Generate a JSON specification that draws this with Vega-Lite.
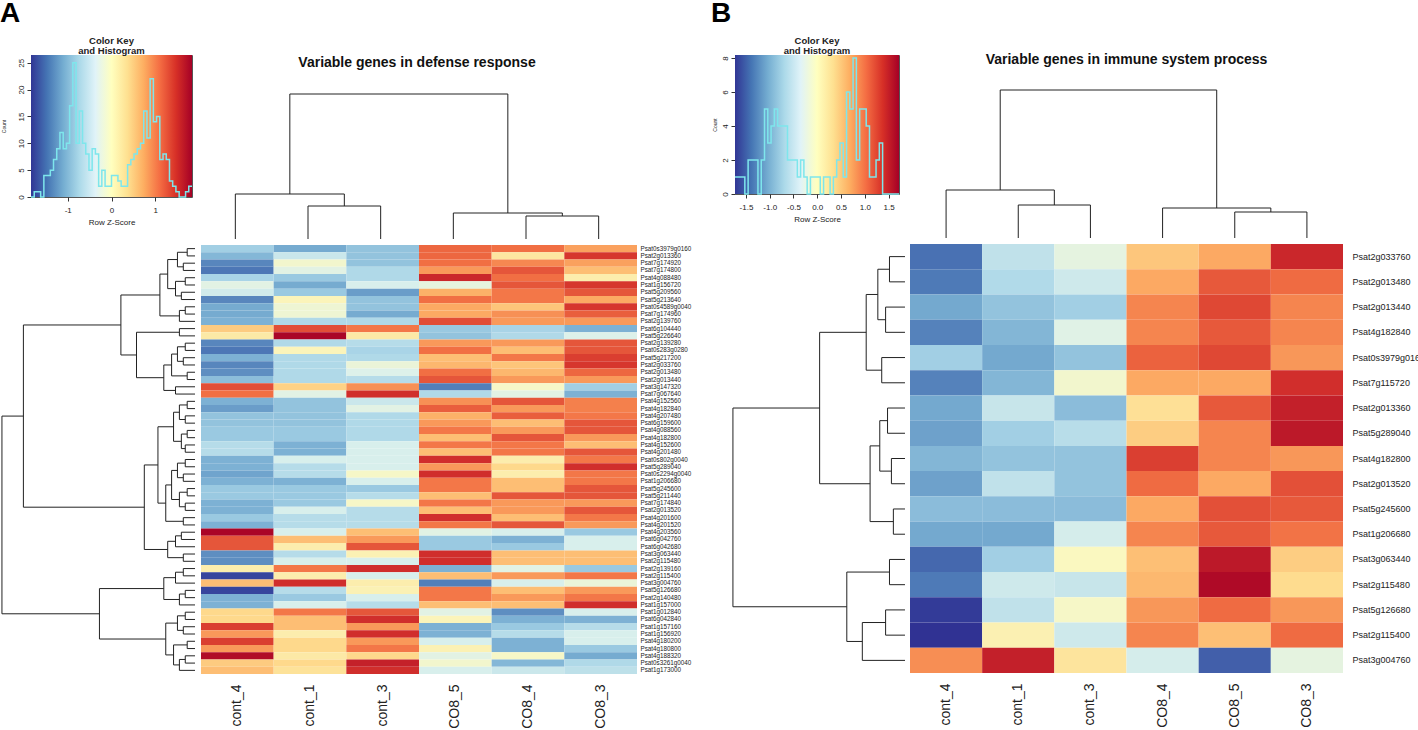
{
"$schema":"https://vega.github.io/schema/vega-lite/v6.json",
"background":"white",
"padding":0,
"config":{"view":{"stroke":null},"font":"Liberation Sans","axis":{"grid":false,"labelOverlap":false}},
"resolve":{"scale":{"color":"independent","x":"independent","y":"independent"}},
"spacing":20,
"datasets":{
"heatA":[
{"g":"Psat0s3979g0160","s":"cont_4","z":-0.8},{"g":"Psat0s3979g0160","s":"cont_1","z":-1.1},{"g":"Psat0s3979g0160","s":"cont_3","z":-0.9},{"g":"Psat0s3979g0160","s":"CO8_5","z":1.15},{"g":"Psat0s3979g0160","s":"CO8_4","z":1.1},{"g":"Psat0s3979g0160","s":"CO8_3","z":0.8},
{"g":"Psat2g013360","s":"cont_4","z":-1.0},{"g":"Psat2g013360","s":"cont_1","z":-0.5},{"g":"Psat2g013360","s":"cont_3","z":-0.9},{"g":"Psat2g013360","s":"CO8_5","z":1.15},{"g":"Psat2g013360","s":"CO8_4","z":0.25},{"g":"Psat2g013360","s":"CO8_3","z":1.45},
{"g":"Psat7g174920","s":"cont_4","z":-1.35},{"g":"Psat7g174920","s":"cont_1","z":-0.1},{"g":"Psat7g174920","s":"cont_3","z":-0.9},{"g":"Psat7g174920","s":"CO8_5","z":1.1},{"g":"Psat7g174920","s":"CO8_4","z":0.95},{"g":"Psat7g174920","s":"CO8_3","z":0.8},
{"g":"Psat7g174800","s":"cont_4","z":-1.45},{"g":"Psat7g174800","s":"cont_1","z":-0.3},{"g":"Psat7g174800","s":"cont_3","z":-0.7},{"g":"Psat7g174800","s":"CO8_5","z":0.85},{"g":"Psat7g174800","s":"CO8_4","z":1.25},{"g":"Psat7g174800","s":"CO8_3","z":0.6},
{"g":"Psat4g088480","s":"cont_4","z":-0.75},{"g":"Psat4g088480","s":"cont_1","z":-0.85},{"g":"Psat4g088480","s":"cont_3","z":-0.7},{"g":"Psat4g088480","s":"CO8_5","z":1.55},{"g":"Psat4g088480","s":"CO8_4","z":1.1},{"g":"Psat4g088480","s":"CO8_3","z":0.15},
{"g":"Psat1g156720","s":"cont_4","z":-0.3},{"g":"Psat1g156720","s":"cont_1","z":-1.1},{"g":"Psat1g156720","s":"cont_3","z":-0.4},{"g":"Psat1g156720","s":"CO8_5","z":-0.25},{"g":"Psat1g156720","s":"CO8_4","z":1.25},{"g":"Psat1g156720","s":"CO8_3","z":1.45},
{"g":"Psat5g209560","s":"cont_4","z":-0.45},{"g":"Psat5g209560","s":"cont_1","z":-0.85},{"g":"Psat5g209560","s":"cont_3","z":-1.2},{"g":"Psat5g209560","s":"CO8_5","z":0.7},{"g":"Psat5g209560","s":"CO8_4","z":1.05},{"g":"Psat5g209560","s":"CO8_3","z":1.25},
{"g":"Psat5g213640","s":"cont_4","z":-1.35},{"g":"Psat5g213640","s":"cont_1","z":0.05},{"g":"Psat5g213640","s":"cont_3","z":-0.9},{"g":"Psat5g213640","s":"CO8_5","z":1.1},{"g":"Psat5g213640","s":"CO8_4","z":1.05},{"g":"Psat5g213640","s":"CO8_3","z":0.75},
{"g":"Psat0s4589g0040","s":"cont_4","z":-1.1},{"g":"Psat0s4589g0040","s":"cont_1","z":-0.15},{"g":"Psat0s4589g0040","s":"cont_3","z":-0.9},{"g":"Psat0s4589g0040","s":"CO8_5","z":0.75},{"g":"Psat0s4589g0040","s":"CO8_4","z":0.55},{"g":"Psat0s4589g0040","s":"CO8_3","z":1.45},
{"g":"Psat7g174960","s":"cont_4","z":-1.1},{"g":"Psat7g174960","s":"cont_1","z":-0.15},{"g":"Psat7g174960","s":"cont_3","z":-1.1},{"g":"Psat7g174960","s":"CO8_5","z":0.75},{"g":"Psat7g174960","s":"CO8_4","z":0.9},{"g":"Psat7g174960","s":"CO8_3","z":1.2},
{"g":"Psat2g139760","s":"cont_4","z":-1.05},{"g":"Psat2g139760","s":"cont_1","z":-0.7},{"g":"Psat2g139760","s":"cont_3","z":-0.7},{"g":"Psat2g139760","s":"CO8_5","z":1.3},{"g":"Psat2g139760","s":"CO8_4","z":0.85},{"g":"Psat2g139760","s":"CO8_3","z":0.85},
{"g":"Psat6g104440","s":"cont_4","z":0.5},{"g":"Psat6g104440","s":"cont_1","z":1.3},{"g":"Psat6g104440","s":"cont_3","z":1.05},{"g":"Psat6g104440","s":"CO8_5","z":-0.85},{"g":"Psat6g104440","s":"CO8_4","z":-0.75},{"g":"Psat6g104440","s":"CO8_3","z":-1.05},
{"g":"Psat5g226640","s":"cont_4","z":0.2},{"g":"Psat5g226640","s":"cont_1","z":1.8},{"g":"Psat5g226640","s":"cont_3","z":0.2},{"g":"Psat5g226640","s":"CO8_5","z":-0.9},{"g":"Psat5g226640","s":"CO8_4","z":-0.7},{"g":"Psat5g226640","s":"CO8_3","z":-0.35},
{"g":"Psat2g139280","s":"cont_4","z":-1.35},{"g":"Psat2g139280","s":"cont_1","z":-0.7},{"g":"Psat2g139280","s":"cont_3","z":-0.65},{"g":"Psat2g139280","s":"CO8_5","z":0.85},{"g":"Psat2g139280","s":"CO8_4","z":0.85},{"g":"Psat2g139280","s":"CO8_3","z":1.25},
{"g":"Psat0s283g0280","s":"cont_4","z":-1.45},{"g":"Psat0s283g0280","s":"cont_1","z":0.05},{"g":"Psat0s283g0280","s":"cont_3","z":-0.75},{"g":"Psat0s283g0280","s":"CO8_5","z":1.1},{"g":"Psat0s283g0280","s":"CO8_4","z":0.6},{"g":"Psat0s283g0280","s":"CO8_3","z":1.25},
{"g":"Psat5g217200","s":"cont_4","z":-1.05},{"g":"Psat5g217200","s":"cont_1","z":-0.7},{"g":"Psat5g217200","s":"cont_3","z":-0.7},{"g":"Psat5g217200","s":"CO8_5","z":0.6},{"g":"Psat5g217200","s":"CO8_4","z":1.05},{"g":"Psat5g217200","s":"CO8_3","z":1.4},
{"g":"Psat2g033760","s":"cont_4","z":-1.35},{"g":"Psat2g033760","s":"cont_1","z":-0.7},{"g":"Psat2g033760","s":"cont_3","z":-0.2},{"g":"Psat2g033760","s":"CO8_5","z":0.65},{"g":"Psat2g033760","s":"CO8_4","z":0.55},{"g":"Psat2g033760","s":"CO8_3","z":1.45},
{"g":"Psat2g013480","s":"cont_4","z":-1.3},{"g":"Psat2g013480","s":"cont_1","z":-0.7},{"g":"Psat2g013480","s":"cont_3","z":-0.35},{"g":"Psat2g013480","s":"CO8_5","z":1.1},{"g":"Psat2g013480","s":"CO8_4","z":0.65},{"g":"Psat2g013480","s":"CO8_3","z":1.15},
{"g":"Psat2g013440","s":"cont_4","z":-0.95},{"g":"Psat2g013440","s":"cont_1","z":-0.7},{"g":"Psat2g013440","s":"cont_3","z":-0.65},{"g":"Psat2g013440","s":"CO8_5","z":1.25},{"g":"Psat2g013440","s":"CO8_4","z":0.85},{"g":"Psat2g013440","s":"CO8_3","z":0.85},
{"g":"Psat3g147320","s":"cont_4","z":1.3},{"g":"Psat3g147320","s":"cont_1","z":0.45},{"g":"Psat3g147320","s":"cont_3","z":0.9},{"g":"Psat3g147320","s":"CO8_5","z":-1.4},{"g":"Psat3g147320","s":"CO8_4","z":-0.05},{"g":"Psat3g147320","s":"CO8_3","z":-0.8},
{"g":"Psat7g067640","s":"cont_4","z":1.1},{"g":"Psat7g067640","s":"cont_1","z":-0.3},{"g":"Psat7g067640","s":"cont_3","z":1.5},{"g":"Psat7g067640","s":"CO8_5","z":-0.7},{"g":"Psat7g067640","s":"CO8_4","z":-0.3},{"g":"Psat7g067640","s":"CO8_3","z":-1.05},
{"g":"Psat4g152560","s":"cont_4","z":-1.05},{"g":"Psat4g152560","s":"cont_1","z":-0.9},{"g":"Psat4g152560","s":"cont_3","z":-0.5},{"g":"Psat4g152560","s":"CO8_5","z":0.9},{"g":"Psat4g152560","s":"CO8_4","z":1.25},{"g":"Psat4g152560","s":"CO8_3","z":1.0},
{"g":"Psat4g182840","s":"cont_4","z":-1.2},{"g":"Psat4g182840","s":"cont_1","z":-0.9},{"g":"Psat4g182840","s":"cont_3","z":-0.3},{"g":"Psat4g182840","s":"CO8_5","z":1.2},{"g":"Psat4g182840","s":"CO8_4","z":0.85},{"g":"Psat4g182840","s":"CO8_3","z":1.0},
{"g":"Psat4g207480","s":"cont_4","z":-0.9},{"g":"Psat4g207480","s":"cont_1","z":-0.9},{"g":"Psat4g207480","s":"cont_3","z":-0.7},{"g":"Psat4g207480","s":"CO8_5","z":0.7},{"g":"Psat4g207480","s":"CO8_4","z":1.2},{"g":"Psat4g207480","s":"CO8_3","z":1.05},
{"g":"Psat6g159600","s":"cont_4","z":-0.9},{"g":"Psat6g159600","s":"cont_1","z":-0.9},{"g":"Psat6g159600","s":"cont_3","z":-0.7},{"g":"Psat6g159600","s":"CO8_5","z":0.85},{"g":"Psat6g159600","s":"CO8_4","z":0.6},{"g":"Psat6g159600","s":"CO8_3","z":1.25},
{"g":"Psat4g088560","s":"cont_4","z":-0.85},{"g":"Psat4g088560","s":"cont_1","z":-0.85},{"g":"Psat4g088560","s":"cont_3","z":-0.7},{"g":"Psat4g088560","s":"CO8_5","z":1.05},{"g":"Psat4g088560","s":"CO8_4","z":0.85},{"g":"Psat4g088560","s":"CO8_3","z":1.25},
{"g":"Psat4g182800","s":"cont_4","z":-0.85},{"g":"Psat4g182800","s":"cont_1","z":-0.85},{"g":"Psat4g182800","s":"cont_3","z":-0.7},{"g":"Psat4g182800","s":"CO8_5","z":0.6},{"g":"Psat4g182800","s":"CO8_4","z":1.25},{"g":"Psat4g182800","s":"CO8_3","z":0.85},
{"g":"Psat4g152600","s":"cont_4","z":-0.65},{"g":"Psat4g152600","s":"cont_1","z":-1.05},{"g":"Psat4g152600","s":"cont_3","z":-0.4},{"g":"Psat4g152600","s":"CO8_5","z":1.05},{"g":"Psat4g152600","s":"CO8_4","z":1.05},{"g":"Psat4g152600","s":"CO8_3","z":0.6},
{"g":"Psat4g201480","s":"cont_4","z":-0.65},{"g":"Psat4g201480","s":"cont_1","z":-1.05},{"g":"Psat4g201480","s":"cont_3","z":-0.4},{"g":"Psat4g201480","s":"CO8_5","z":0.6},{"g":"Psat4g201480","s":"CO8_4","z":1.05},{"g":"Psat4g201480","s":"CO8_3","z":1.25},
{"g":"Psat0s802g0040","s":"cont_4","z":-1.05},{"g":"Psat0s802g0040","s":"cont_1","z":-0.4},{"g":"Psat0s802g0040","s":"cont_3","z":-0.4},{"g":"Psat0s802g0040","s":"CO8_5","z":1.5},{"g":"Psat0s802g0040","s":"CO8_4","z":0.15},{"g":"Psat0s802g0040","s":"CO8_3","z":1.05},
{"g":"Psat5g289040","s":"cont_4","z":-1.05},{"g":"Psat5g289040","s":"cont_1","z":-0.65},{"g":"Psat5g289040","s":"cont_3","z":-0.4},{"g":"Psat5g289040","s":"CO8_5","z":0.85},{"g":"Psat5g289040","s":"CO8_4","z":0.4},{"g":"Psat5g289040","s":"CO8_3","z":1.5},
{"g":"Psat0s2294g0040","s":"cont_4","z":-1.15},{"g":"Psat0s2294g0040","s":"cont_1","z":-0.65},{"g":"Psat0s2294g0040","s":"cont_3","z":-0.05},{"g":"Psat0s2294g0040","s":"CO8_5","z":1.5},{"g":"Psat0s2294g0040","s":"CO8_4","z":0.15},{"g":"Psat0s2294g0040","s":"CO8_3","z":1.05},
{"g":"Psat1g206680","s":"cont_4","z":-1.05},{"g":"Psat1g206680","s":"cont_1","z":-1.05},{"g":"Psat1g206680","s":"cont_3","z":-0.4},{"g":"Psat1g206680","s":"CO8_5","z":1.05},{"g":"Psat1g206680","s":"CO8_4","z":0.6},{"g":"Psat1g206680","s":"CO8_3","z":1.05},
{"g":"Psat5g245600","s":"cont_4","z":-0.85},{"g":"Psat5g245600","s":"cont_1","z":-0.85},{"g":"Psat5g245600","s":"cont_3","z":-0.85},{"g":"Psat5g245600","s":"CO8_5","z":1.05},{"g":"Psat5g245600","s":"CO8_4","z":0.6},{"g":"Psat5g245600","s":"CO8_3","z":1.25},
{"g":"Psat5g211440","s":"cont_4","z":-0.85},{"g":"Psat5g211440","s":"cont_1","z":-0.85},{"g":"Psat5g211440","s":"cont_3","z":-0.65},{"g":"Psat5g211440","s":"CO8_5","z":0.6},{"g":"Psat5g211440","s":"CO8_4","z":1.25},{"g":"Psat5g211440","s":"CO8_3","z":1.25},
{"g":"Psat7g174840","s":"cont_4","z":-1.05},{"g":"Psat7g174840","s":"cont_1","z":-0.85},{"g":"Psat7g174840","s":"cont_3","z":-0.05},{"g":"Psat7g174840","s":"CO8_5","z":1.05},{"g":"Psat7g174840","s":"CO8_4","z":0.85},{"g":"Psat7g174840","s":"CO8_3","z":0.85},
{"g":"Psat2g013520","s":"cont_4","z":-1.05},{"g":"Psat2g013520","s":"cont_1","z":-0.4},{"g":"Psat2g013520","s":"cont_3","z":-0.65},{"g":"Psat2g013520","s":"CO8_5","z":0.6},{"g":"Psat2g013520","s":"CO8_4","z":0.85},{"g":"Psat2g013520","s":"CO8_3","z":1.25},
{"g":"Psat4g201600","s":"cont_4","z":-0.85},{"g":"Psat4g201600","s":"cont_1","z":-0.65},{"g":"Psat4g201600","s":"cont_3","z":-0.65},{"g":"Psat4g201600","s":"CO8_5","z":1.5},{"g":"Psat4g201600","s":"CO8_4","z":0.6},{"g":"Psat4g201600","s":"CO8_3","z":1.05},
{"g":"Psat4g201520","s":"cont_4","z":-1.05},{"g":"Psat4g201520","s":"cont_1","z":-0.65},{"g":"Psat4g201520","s":"cont_3","z":-0.65},{"g":"Psat4g201520","s":"CO8_5","z":1.05},{"g":"Psat4g201520","s":"CO8_4","z":1.25},{"g":"Psat4g201520","s":"CO8_3","z":0.85},
{"g":"Psat4g203560","s":"cont_4","z":1.8},{"g":"Psat4g203560","s":"cont_1","z":-0.4},{"g":"Psat4g203560","s":"cont_3","z":0.6},{"g":"Psat4g203560","s":"CO8_5","z":-0.3},{"g":"Psat4g203560","s":"CO8_4","z":-0.4},{"g":"Psat4g203560","s":"CO8_3","z":-0.85},
{"g":"Psat6g042760","s":"cont_4","z":1.25},{"g":"Psat6g042760","s":"cont_1","z":0.6},{"g":"Psat6g042760","s":"cont_3","z":0.85},{"g":"Psat6g042760","s":"CO8_5","z":-0.85},{"g":"Psat6g042760","s":"CO8_4","z":-1.05},{"g":"Psat6g042760","s":"CO8_3","z":-0.4},
{"g":"Psat6g042680","s":"cont_4","z":1.25},{"g":"Psat6g042680","s":"cont_1","z":0.15},{"g":"Psat6g042680","s":"cont_3","z":1.25},{"g":"Psat6g042680","s":"CO8_5","z":-0.85},{"g":"Psat6g042680","s":"CO8_4","z":-0.85},{"g":"Psat6g042680","s":"CO8_3","z":-0.4},
{"g":"Psat3g063440","s":"cont_4","z":-1.3},{"g":"Psat3g063440","s":"cont_1","z":-0.65},{"g":"Psat3g063440","s":"cont_3","z":0.1},{"g":"Psat3g063440","s":"CO8_5","z":1.5},{"g":"Psat3g063440","s":"CO8_4","z":0.6},{"g":"Psat3g063440","s":"CO8_3","z":0.6},
{"g":"Psat2g115480","s":"cont_4","z":-1.3},{"g":"Psat2g115480","s":"cont_1","z":-0.4},{"g":"Psat2g115480","s":"cont_3","z":-0.4},{"g":"Psat2g115480","s":"CO8_5","z":1.5},{"g":"Psat2g115480","s":"CO8_4","z":0.6},{"g":"Psat2g115480","s":"CO8_3","z":0.6},
{"g":"Psat2g139160","s":"cont_4","z":0.15},{"g":"Psat2g139160","s":"cont_1","z":1.05},{"g":"Psat2g139160","s":"cont_3","z":1.5},{"g":"Psat2g139160","s":"CO8_5","z":-1.05},{"g":"Psat2g139160","s":"CO8_4","z":-0.3},{"g":"Psat2g139160","s":"CO8_3","z":-0.85},
{"g":"Psat2g115400","s":"cont_4","z":-1.75},{"g":"Psat2g115400","s":"cont_1","z":0.15},{"g":"Psat2g115400","s":"cont_3","z":-0.4},{"g":"Psat2g115400","s":"CO8_5","z":0.6},{"g":"Psat2g115400","s":"CO8_4","z":0.85},{"g":"Psat2g115400","s":"CO8_3","z":1.05},
{"g":"Psat3g004760","s":"cont_4","z":0.6},{"g":"Psat3g004760","s":"cont_1","z":1.5},{"g":"Psat3g004760","s":"cont_3","z":0.15},{"g":"Psat3g004760","s":"CO8_5","z":-1.4},{"g":"Psat3g004760","s":"CO8_4","z":-0.4},{"g":"Psat3g004760","s":"CO8_3","z":-0.2},
{"g":"Psat5g126680","s":"cont_4","z":-1.75},{"g":"Psat5g126680","s":"cont_1","z":-0.65},{"g":"Psat5g126680","s":"cont_3","z":0.1},{"g":"Psat5g126680","s":"CO8_5","z":1.05},{"g":"Psat5g126680","s":"CO8_4","z":0.6},{"g":"Psat5g126680","s":"CO8_3","z":0.85},
{"g":"Psat2g140480","s":"cont_4","z":-1.05},{"g":"Psat2g140480","s":"cont_1","z":-0.85},{"g":"Psat2g140480","s":"cont_3","z":-0.4},{"g":"Psat2g140480","s":"CO8_5","z":1.05},{"g":"Psat2g140480","s":"CO8_4","z":0.85},{"g":"Psat2g140480","s":"CO8_3","z":1.05},
{"g":"Psat1g157000","s":"cont_4","z":-1.05},{"g":"Psat1g157000","s":"cont_1","z":-0.4},{"g":"Psat1g157000","s":"cont_3","z":-0.65},{"g":"Psat1g157000","s":"CO8_5","z":0.6},{"g":"Psat1g157000","s":"CO8_4","z":0.6},{"g":"Psat1g157000","s":"CO8_3","z":1.5},
{"g":"Psat1g012840","s":"cont_4","z":0.4},{"g":"Psat1g012840","s":"cont_1","z":1.05},{"g":"Psat1g012840","s":"cont_3","z":1.25},{"g":"Psat1g012840","s":"CO8_5","z":-0.3},{"g":"Psat1g012840","s":"CO8_4","z":-1.3},{"g":"Psat1g012840","s":"CO8_3","z":-0.4},
{"g":"Psat6g042840","s":"cont_4","z":0.4},{"g":"Psat6g042840","s":"cont_1","z":0.6},{"g":"Psat6g042840","s":"cont_3","z":1.5},{"g":"Psat6g042840","s":"CO8_5","z":0.05},{"g":"Psat6g042840","s":"CO8_4","z":-1.05},{"g":"Psat6g042840","s":"CO8_3","z":-1.05},
{"g":"Psat1g157160","s":"cont_4","z":1.4},{"g":"Psat1g157160","s":"cont_1","z":0.6},{"g":"Psat1g157160","s":"cont_3","z":0.85},{"g":"Psat1g157160","s":"CO8_5","z":-1.05},{"g":"Psat1g157160","s":"CO8_4","z":-0.85},{"g":"Psat1g157160","s":"CO8_3","z":-0.65},
{"g":"Psat1g156920","s":"cont_4","z":0.85},{"g":"Psat1g156920","s":"cont_1","z":0.15},{"g":"Psat1g156920","s":"cont_3","z":1.5},{"g":"Psat1g156920","s":"CO8_5","z":-1.05},{"g":"Psat1g156920","s":"CO8_4","z":-0.65},{"g":"Psat1g156920","s":"CO8_3","z":-0.4},
{"g":"Psat4g180200","s":"cont_4","z":1.4},{"g":"Psat4g180200","s":"cont_1","z":0.4},{"g":"Psat4g180200","s":"cont_3","z":0.85},{"g":"Psat4g180200","s":"CO8_5","z":-0.4},{"g":"Psat4g180200","s":"CO8_4","z":-1.05},{"g":"Psat4g180200","s":"CO8_3","z":-0.4},
{"g":"Psat4g180800","s":"cont_4","z":0.85},{"g":"Psat4g180800","s":"cont_1","z":0.4},{"g":"Psat4g180800","s":"cont_3","z":1.05},{"g":"Psat4g180800","s":"CO8_5","z":0.1},{"g":"Psat4g180800","s":"CO8_4","z":-1.05},{"g":"Psat4g180800","s":"CO8_3","z":-0.85},
{"g":"Psat4g188320","s":"cont_4","z":1.75},{"g":"Psat4g188320","s":"cont_1","z":0.2},{"g":"Psat4g188320","s":"cont_3","z":0.4},{"g":"Psat4g188320","s":"CO8_5","z":-0.3},{"g":"Psat4g188320","s":"CO8_4","z":-0.05},{"g":"Psat4g188320","s":"CO8_3","z":-1.1},
{"g":"Psat0s3261g0040","s":"cont_4","z":0.5},{"g":"Psat0s3261g0040","s":"cont_1","z":0.4},{"g":"Psat0s3261g0040","s":"cont_3","z":1.6},{"g":"Psat0s3261g0040","s":"CO8_5","z":-0.1},{"g":"Psat0s3261g0040","s":"CO8_4","z":-1.0},{"g":"Psat0s3261g0040","s":"CO8_3","z":-0.7},
{"g":"Psat1g173000","s":"cont_4","z":0.6},{"g":"Psat1g173000","s":"cont_1","z":0.3},{"g":"Psat1g173000","s":"cont_3","z":1.5},{"g":"Psat1g173000","s":"CO8_5","z":-0.4},{"g":"Psat1g173000","s":"CO8_4","z":-0.5},{"g":"Psat1g173000","s":"CO8_3","z":-0.6}
],
"heatB":[
{"g":"Psat2g033760","s":"cont_4","z":-1.4},{"g":"Psat2g033760","s":"cont_1","z":-0.55},{"g":"Psat2g033760","s":"cont_3","z":-0.25},{"g":"Psat2g033760","s":"CO8_4","z":0.5},{"g":"Psat2g033760","s":"CO8_5","z":0.7},{"g":"Psat2g033760","s":"CO8_3","z":1.45},
{"g":"Psat2g013480","s":"cont_4","z":-1.35},{"g":"Psat2g013480","s":"cont_1","z":-0.65},{"g":"Psat2g013480","s":"cont_3","z":-0.45},{"g":"Psat2g013480","s":"CO8_4","z":0.7},{"g":"Psat2g013480","s":"CO8_5","z":1.15},{"g":"Psat2g013480","s":"CO8_3","z":1.05},
{"g":"Psat2g013440","s":"cont_4","z":-1.05},{"g":"Psat2g013440","s":"cont_1","z":-0.85},{"g":"Psat2g013440","s":"cont_3","z":-0.75},{"g":"Psat2g013440","s":"CO8_4","z":0.9},{"g":"Psat2g013440","s":"CO8_5","z":1.25},{"g":"Psat2g013440","s":"CO8_3","z":0.9},
{"g":"Psat4g182840","s":"cont_4","z":-1.3},{"g":"Psat4g182840","s":"cont_1","z":-0.95},{"g":"Psat4g182840","s":"cont_3","z":-0.3},{"g":"Psat4g182840","s":"CO8_4","z":0.9},{"g":"Psat4g182840","s":"CO8_5","z":1.15},{"g":"Psat4g182840","s":"CO8_3","z":0.9},
{"g":"Psat0s3979g0160","s":"cont_4","z":-0.75},{"g":"Psat0s3979g0160","s":"cont_1","z":-1.05},{"g":"Psat0s3979g0160","s":"cont_3","z":-0.85},{"g":"Psat0s3979g0160","s":"CO8_4","z":1.1},{"g":"Psat0s3979g0160","s":"CO8_5","z":1.25},{"g":"Psat0s3979g0160","s":"CO8_3","z":0.8},
{"g":"Psat7g115720","s":"cont_4","z":-1.3},{"g":"Psat7g115720","s":"cont_1","z":-0.95},{"g":"Psat7g115720","s":"cont_3","z":-0.1},{"g":"Psat7g115720","s":"CO8_4","z":0.7},{"g":"Psat7g115720","s":"CO8_5","z":0.7},{"g":"Psat7g115720","s":"CO8_3","z":1.4},
{"g":"Psat2g013360","s":"cont_4","z":-1.05},{"g":"Psat2g013360","s":"cont_1","z":-0.5},{"g":"Psat2g013360","s":"cont_3","z":-0.9},{"g":"Psat2g013360","s":"CO8_4","z":0.3},{"g":"Psat2g013360","s":"CO8_5","z":1.15},{"g":"Psat2g013360","s":"CO8_3","z":1.5},
{"g":"Psat5g289040","s":"cont_4","z":-1.1},{"g":"Psat5g289040","s":"cont_1","z":-0.75},{"g":"Psat5g289040","s":"cont_3","z":-0.6},{"g":"Psat5g289040","s":"CO8_4","z":0.45},{"g":"Psat5g289040","s":"CO8_5","z":0.9},{"g":"Psat5g289040","s":"CO8_3","z":1.55},
{"g":"Psat4g182800","s":"cont_4","z":-0.95},{"g":"Psat4g182800","s":"cont_1","z":-0.85},{"g":"Psat4g182800","s":"cont_3","z":-0.85},{"g":"Psat4g182800","s":"CO8_4","z":1.3},{"g":"Psat4g182800","s":"CO8_5","z":0.9},{"g":"Psat4g182800","s":"CO8_3","z":0.8},
{"g":"Psat2g013520","s":"cont_4","z":-1.1},{"g":"Psat2g013520","s":"cont_1","z":-0.55},{"g":"Psat2g013520","s":"cont_3","z":-0.85},{"g":"Psat2g013520","s":"CO8_4","z":1.05},{"g":"Psat2g013520","s":"CO8_5","z":0.7},{"g":"Psat2g013520","s":"CO8_3","z":1.2},
{"g":"Psat5g245600","s":"cont_4","z":-0.9},{"g":"Psat5g245600","s":"cont_1","z":-0.9},{"g":"Psat5g245600","s":"cont_3","z":-0.9},{"g":"Psat5g245600","s":"CO8_4","z":0.7},{"g":"Psat5g245600","s":"CO8_5","z":1.2},{"g":"Psat5g245600","s":"CO8_3","z":1.15},
{"g":"Psat1g206680","s":"cont_4","z":-1.05},{"g":"Psat1g206680","s":"cont_1","z":-1.05},{"g":"Psat1g206680","s":"cont_3","z":-0.4},{"g":"Psat1g206680","s":"CO8_4","z":0.9},{"g":"Psat1g206680","s":"CO8_5","z":1.15},{"g":"Psat1g206680","s":"CO8_3","z":1.0},
{"g":"Psat3g063440","s":"cont_4","z":-1.45},{"g":"Psat3g063440","s":"cont_1","z":-0.75},{"g":"Psat3g063440","s":"cont_3","z":0.0},{"g":"Psat3g063440","s":"CO8_4","z":0.55},{"g":"Psat3g063440","s":"CO8_5","z":1.55},{"g":"Psat3g063440","s":"CO8_3","z":0.45},
{"g":"Psat2g115480","s":"cont_4","z":-1.35},{"g":"Psat2g115480","s":"cont_1","z":-0.45},{"g":"Psat2g115480","s":"cont_3","z":-0.5},{"g":"Psat2g115480","s":"CO8_4","z":0.6},{"g":"Psat2g115480","s":"CO8_5","z":1.65},{"g":"Psat2g115480","s":"CO8_3","z":0.35},
{"g":"Psat5g126680","s":"cont_4","z":-1.7},{"g":"Psat5g126680","s":"cont_1","z":-0.55},{"g":"Psat5g126680","s":"cont_3","z":-0.05},{"g":"Psat5g126680","s":"CO8_4","z":0.8},{"g":"Psat5g126680","s":"CO8_5","z":1.05},{"g":"Psat5g126680","s":"CO8_3","z":0.8},
{"g":"Psat2g115400","s":"cont_4","z":-1.75},{"g":"Psat2g115400","s":"cont_1","z":0.1},{"g":"Psat2g115400","s":"cont_3","z":-0.45},{"g":"Psat2g115400","s":"CO8_4","z":0.9},{"g":"Psat2g115400","s":"CO8_5","z":0.55},{"g":"Psat2g115400","s":"CO8_3","z":1.05},
{"g":"Psat3g004760","s":"cont_4","z":0.85},{"g":"Psat3g004760","s":"cont_1","z":1.5},{"g":"Psat3g004760","s":"cont_3","z":0.25},{"g":"Psat3g004760","s":"CO8_4","z":-0.4},{"g":"Psat3g004760","s":"CO8_5","z":-1.5},{"g":"Psat3g004760","s":"CO8_3","z":-0.25}
],
"histA":[
{"x":-1.84,"n":0},{"x":-1.766,"n":1},{"x":-1.693,"n":1},{"x":-1.619,"n":0},{"x":-1.546,"n":4},{"x":-1.472,"n":4},{"x":-1.398,"n":5},{"x":-1.325,"n":7},{"x":-1.251,"n":9},{"x":-1.178,"n":12},{"x":-1.104,"n":9},{"x":-1.03,"n":10},{"x":-0.957,"n":17},{"x":-0.883,"n":25},{"x":-0.81,"n":10},{"x":-0.736,"n":16},{"x":-0.662,"n":10},{"x":-0.589,"n":8},{"x":-0.515,"n":5},{"x":-0.442,"n":9},{"x":-0.368,"n":8},{"x":-0.294,"n":2},{"x":-0.221,"n":5},{"x":-0.147,"n":2},{"x":-0.074,"n":2},{"x":0,"n":4},{"x":0.074,"n":4},{"x":0.147,"n":3},{"x":0.221,"n":2},{"x":0.294,"n":2},{"x":0.368,"n":6},{"x":0.442,"n":7},{"x":0.515,"n":8},{"x":0.589,"n":9},{"x":0.662,"n":10},{"x":0.736,"n":16},{"x":0.81,"n":11},{"x":0.883,"n":22},{"x":0.957,"n":14},{"x":1.03,"n":15},{"x":1.104,"n":7},{"x":1.178,"n":8},{"x":1.251,"n":7},{"x":1.325,"n":3},{"x":1.398,"n":2},{"x":1.472,"n":1},{"x":1.546,"n":0},{"x":1.619,"n":0},{"x":1.693,"n":1},{"x":1.766,"n":2},{"x":1.84,"n":2}
],
"histB":[
{"x":-1.73,"n":1},{"x":-1.661,"n":1},{"x":-1.592,"n":1},{"x":-1.523,"n":0},{"x":-1.454,"n":2},{"x":-1.385,"n":2},{"x":-1.316,"n":2},{"x":-1.247,"n":0},{"x":-1.178,"n":2},{"x":-1.109,"n":5},{"x":-1.04,"n":3},{"x":-0.971,"n":4},{"x":-0.902,"n":5},{"x":-0.833,"n":4},{"x":-0.764,"n":4},{"x":-0.695,"n":4},{"x":-0.626,"n":2},{"x":-0.557,"n":2},{"x":-0.488,"n":2},{"x":-0.419,"n":1},{"x":-0.35,"n":2},{"x":-0.281,"n":1},{"x":-0.212,"n":0},{"x":-0.143,"n":1},{"x":-0.074,"n":1},{"x":-0.005,"n":1},{"x":0.064,"n":0},{"x":0.133,"n":1},{"x":0.202,"n":1},{"x":0.271,"n":0},{"x":0.34,"n":1},{"x":0.409,"n":2},{"x":0.478,"n":3},{"x":0.547,"n":1},{"x":0.616,"n":6},{"x":0.685,"n":5},{"x":0.754,"n":8},{"x":0.823,"n":2},{"x":0.892,"n":5},{"x":0.961,"n":5},{"x":1.03,"n":4},{"x":1.099,"n":1},{"x":1.168,"n":1},{"x":1.237,"n":2},{"x":1.306,"n":3},{"x":1.375,"n":0},{"x":1.444,"n":0},{"x":1.513,"n":0},{"x":1.582,"n":0},{"x":1.651,"n":0},{"x":1.72,"n":0}
],
"colA":[
{"x":1.5,"x2":1.5,"y":0,"y2":33},{"x":2.5,"x2":2.5,"y":0,"y2":33},{"x":1.5,"x2":2.5,"y":33,"y2":33},
{"x":0.5,"x2":0.5,"y":0,"y2":45},{"x":2,"x2":2,"y":33,"y2":45},{"x":0.5,"x2":2,"y":45,"y2":45},
{"x":4.5,"x2":4.5,"y":0,"y2":23},{"x":5.5,"x2":5.5,"y":0,"y2":23},{"x":4.5,"x2":5.5,"y":23,"y2":23},
{"x":3.5,"x2":3.5,"y":0,"y2":26},{"x":5,"x2":5,"y":23,"y2":26},{"x":3.5,"x2":5,"y":26,"y2":26},
{"x":1.25,"x2":1.25,"y":45,"y2":145},{"x":4.25,"x2":4.25,"y":26,"y2":145},{"x":1.25,"x2":4.25,"y":145,"y2":145}
],
"colB":[
{"x":1.5,"x2":1.5,"y":0,"y2":33},{"x":2.5,"x2":2.5,"y":0,"y2":33},{"x":1.5,"x2":2.5,"y":33,"y2":33},
{"x":0.5,"x2":0.5,"y":0,"y2":48},{"x":2,"x2":2,"y":33,"y2":48},{"x":0.5,"x2":2,"y":48,"y2":48},
{"x":4.5,"x2":4.5,"y":0,"y2":26},{"x":5.5,"x2":5.5,"y":0,"y2":26},{"x":4.5,"x2":5.5,"y":26,"y2":26},
{"x":3.5,"x2":3.5,"y":0,"y2":30},{"x":5,"x2":5,"y":26,"y2":30},{"x":3.5,"x2":5,"y":30,"y2":30},
{"x":1.25,"x2":1.25,"y":48,"y2":148},{"x":4.25,"x2":4.25,"y":30,"y2":148},{"x":1.25,"x2":4.25,"y":148,"y2":148}
],
"rowA":[
{"x":4,"x2":4,"y":0.5,"y2":1.5},{"x":4,"x2":0,"y":0.5,"y2":0.5},{"x":4,"x2":0,"y":1.5,"y2":1.5},
{"x":6,"x2":6,"y":2.5,"y2":3.5},{"x":6,"x2":0,"y":2.5,"y2":2.5},{"x":6,"x2":0,"y":3.5,"y2":3.5},
{"x":9,"x2":9,"y":1,"y2":3},{"x":9,"x2":4,"y":1,"y2":1},{"x":9,"x2":6,"y":3,"y2":3},
{"x":5,"x2":5,"y":4.5,"y2":5.5},{"x":5,"x2":0,"y":4.5,"y2":4.5},{"x":5,"x2":0,"y":5.5,"y2":5.5},
{"x":7,"x2":7,"y":6.5,"y2":7.5},{"x":7,"x2":0,"y":6.5,"y2":6.5},{"x":7,"x2":0,"y":7.5,"y2":7.5},
{"x":10,"x2":10,"y":5,"y2":7},{"x":10,"x2":5,"y":5,"y2":5},{"x":10,"x2":7,"y":7,"y2":7},
{"x":14,"x2":14,"y":2,"y2":6},{"x":14,"x2":9,"y":2,"y2":2},{"x":14,"x2":10,"y":6,"y2":6},
{"x":5,"x2":5,"y":8.5,"y2":9.5},{"x":5,"x2":0,"y":8.5,"y2":8.5},{"x":5,"x2":0,"y":9.5,"y2":9.5},
{"x":8,"x2":8,"y":9,"y2":10.5},{"x":8,"x2":5,"y":9,"y2":9},{"x":8,"x2":0,"y":10.5,"y2":10.5},
{"x":18,"x2":18,"y":4,"y2":9.75},{"x":18,"x2":14,"y":4,"y2":4},{"x":18,"x2":8,"y":9.75,"y2":9.75},
{"x":8,"x2":8,"y":11.5,"y2":12.5},{"x":8,"x2":0,"y":11.5,"y2":11.5},{"x":8,"x2":0,"y":12.5,"y2":12.5},
{"x":5,"x2":5,"y":13.5,"y2":14.5},{"x":5,"x2":0,"y":13.5,"y2":13.5},{"x":5,"x2":0,"y":14.5,"y2":14.5},
{"x":6,"x2":6,"y":15.5,"y2":16.5},{"x":6,"x2":0,"y":15.5,"y2":15.5},{"x":6,"x2":0,"y":16.5,"y2":16.5},
{"x":9,"x2":9,"y":14,"y2":16},{"x":9,"x2":5,"y":14,"y2":14},{"x":9,"x2":6,"y":16,"y2":16},
{"x":4,"x2":4,"y":17.5,"y2":18.5},{"x":4,"x2":0,"y":17.5,"y2":17.5},{"x":4,"x2":0,"y":18.5,"y2":18.5},
{"x":12,"x2":12,"y":15,"y2":18},{"x":12,"x2":9,"y":15,"y2":15},{"x":12,"x2":4,"y":18,"y2":18},
{"x":10,"x2":10,"y":19.5,"y2":20.5},{"x":10,"x2":0,"y":19.5,"y2":19.5},{"x":10,"x2":0,"y":20.5,"y2":20.5},
{"x":16,"x2":16,"y":16.5,"y2":20},{"x":16,"x2":12,"y":16.5,"y2":16.5},{"x":16,"x2":10,"y":20,"y2":20},
{"x":30,"x2":30,"y":12,"y2":18.25},{"x":30,"x2":8,"y":12,"y2":12},{"x":30,"x2":16,"y":18.25,"y2":18.25},
{"x":38,"x2":38,"y":6.875,"y2":15.125},{"x":38,"x2":18,"y":6.875,"y2":6.875},{"x":38,"x2":30,"y":15.125,"y2":15.125},
{"x":4,"x2":4,"y":21.5,"y2":22.5},{"x":4,"x2":0,"y":21.5,"y2":21.5},{"x":4,"x2":0,"y":22.5,"y2":22.5},
{"x":5,"x2":5,"y":23.5,"y2":24.5},{"x":5,"x2":0,"y":23.5,"y2":23.5},{"x":5,"x2":0,"y":24.5,"y2":24.5},
{"x":8,"x2":8,"y":22,"y2":24},{"x":8,"x2":4,"y":22,"y2":22},{"x":8,"x2":5,"y":24,"y2":24},
{"x":4,"x2":4,"y":25.5,"y2":26.5},{"x":4,"x2":0,"y":25.5,"y2":25.5},{"x":4,"x2":0,"y":26.5,"y2":26.5},
{"x":5,"x2":5,"y":27.5,"y2":28.5},{"x":5,"x2":0,"y":27.5,"y2":27.5},{"x":5,"x2":0,"y":28.5,"y2":28.5},
{"x":7,"x2":7,"y":26,"y2":28},{"x":7,"x2":4,"y":26,"y2":26},{"x":7,"x2":5,"y":28,"y2":28},
{"x":11,"x2":11,"y":23,"y2":27},{"x":11,"x2":8,"y":23,"y2":23},{"x":11,"x2":7,"y":27,"y2":27},
{"x":5,"x2":5,"y":29.5,"y2":30.5},{"x":5,"x2":0,"y":29.5,"y2":29.5},{"x":5,"x2":0,"y":30.5,"y2":30.5},
{"x":6,"x2":6,"y":31.5,"y2":32.5},{"x":6,"x2":0,"y":31.5,"y2":31.5},{"x":6,"x2":0,"y":32.5,"y2":32.5},
{"x":9,"x2":9,"y":30,"y2":32},{"x":9,"x2":5,"y":30,"y2":30},{"x":9,"x2":6,"y":32,"y2":32},
{"x":4,"x2":4,"y":33.5,"y2":34.5},{"x":4,"x2":0,"y":33.5,"y2":33.5},{"x":4,"x2":0,"y":34.5,"y2":34.5},
{"x":5,"x2":5,"y":35.5,"y2":36.5},{"x":5,"x2":0,"y":35.5,"y2":35.5},{"x":5,"x2":0,"y":36.5,"y2":36.5},
{"x":8,"x2":8,"y":34,"y2":36},{"x":8,"x2":4,"y":34,"y2":34},{"x":8,"x2":5,"y":36,"y2":36},
{"x":12,"x2":12,"y":31,"y2":35},{"x":12,"x2":9,"y":31,"y2":31},{"x":12,"x2":8,"y":35,"y2":35},
{"x":6,"x2":6,"y":37.5,"y2":38.5},{"x":6,"x2":0,"y":37.5,"y2":37.5},{"x":6,"x2":0,"y":38.5,"y2":38.5},
{"x":15,"x2":15,"y":33,"y2":38},{"x":15,"x2":12,"y":33,"y2":33},{"x":15,"x2":6,"y":38,"y2":38},
{"x":19,"x2":19,"y":25,"y2":35.5},{"x":19,"x2":11,"y":25,"y2":25},{"x":19,"x2":15,"y":35.5,"y2":35.5},
{"x":7,"x2":7,"y":39.5,"y2":40.5},{"x":7,"x2":0,"y":39.5,"y2":39.5},{"x":7,"x2":0,"y":40.5,"y2":40.5},
{"x":10,"x2":10,"y":40,"y2":41.5},{"x":10,"x2":7,"y":40,"y2":40},{"x":10,"x2":0,"y":41.5,"y2":41.5},
{"x":6,"x2":6,"y":42.5,"y2":43.5},{"x":6,"x2":0,"y":42.5,"y2":42.5},{"x":6,"x2":0,"y":43.5,"y2":43.5},
{"x":14,"x2":14,"y":40.75,"y2":43},{"x":14,"x2":10,"y":40.75,"y2":40.75},{"x":14,"x2":6,"y":43,"y2":43},
{"x":26,"x2":26,"y":30.25,"y2":41.875},{"x":26,"x2":19,"y":30.25,"y2":30.25},{"x":26,"x2":14,"y":41.875,"y2":41.875},
{"x":88,"x2":88,"y":11,"y2":36.06},{"x":88,"x2":38,"y":11,"y2":11},{"x":88,"x2":26,"y":36.06,"y2":36.06},
{"x":6,"x2":6,"y":44.5,"y2":45.5},{"x":6,"x2":0,"y":44.5,"y2":44.5},{"x":6,"x2":0,"y":45.5,"y2":45.5},
{"x":10,"x2":10,"y":45,"y2":46.5},{"x":10,"x2":6,"y":45,"y2":45},{"x":10,"x2":0,"y":46.5,"y2":46.5},
{"x":5,"x2":5,"y":47.5,"y2":48.5},{"x":5,"x2":0,"y":47.5,"y2":47.5},{"x":5,"x2":0,"y":48.5,"y2":48.5},
{"x":8,"x2":8,"y":48,"y2":49.5},{"x":8,"x2":5,"y":48,"y2":48},{"x":8,"x2":0,"y":49.5,"y2":49.5},
{"x":16,"x2":16,"y":45.75,"y2":48.75},{"x":16,"x2":10,"y":45.75,"y2":45.75},{"x":16,"x2":8,"y":48.75,"y2":48.75},
{"x":5,"x2":5,"y":50.5,"y2":51.5},{"x":5,"x2":0,"y":50.5,"y2":50.5},{"x":5,"x2":0,"y":51.5,"y2":51.5},
{"x":6,"x2":6,"y":52.5,"y2":53.5},{"x":6,"x2":0,"y":52.5,"y2":52.5},{"x":6,"x2":0,"y":53.5,"y2":53.5},
{"x":9,"x2":9,"y":51,"y2":53},{"x":9,"x2":5,"y":51,"y2":51},{"x":9,"x2":6,"y":53,"y2":53},
{"x":4,"x2":4,"y":54.5,"y2":55.5},{"x":4,"x2":0,"y":54.5,"y2":54.5},{"x":4,"x2":0,"y":55.5,"y2":55.5},
{"x":5,"x2":5,"y":56.5,"y2":57.5},{"x":5,"x2":0,"y":56.5,"y2":56.5},{"x":5,"x2":0,"y":57.5,"y2":57.5},
{"x":8,"x2":8,"y":57,"y2":58.5},{"x":8,"x2":5,"y":57,"y2":57},{"x":8,"x2":0,"y":58.5,"y2":58.5},
{"x":11,"x2":11,"y":55,"y2":57.75},{"x":11,"x2":4,"y":55,"y2":55},{"x":11,"x2":8,"y":57.75,"y2":57.75},
{"x":15,"x2":15,"y":52,"y2":56.375},{"x":15,"x2":9,"y":52,"y2":52},{"x":15,"x2":11,"y":56.375,"y2":56.375},
{"x":49,"x2":49,"y":47.25,"y2":54.19},{"x":49,"x2":16,"y":47.25,"y2":47.25},{"x":49,"x2":15,"y":54.19,"y2":54.19},
{"x":99,"x2":99,"y":23.53,"y2":50.72},{"x":99,"x2":88,"y":23.53,"y2":23.53},{"x":99,"x2":49,"y":50.72,"y2":50.72}
],
"rowB":[
{"x":8,"x2":8,"y":0.5,"y2":1.5},{"x":8,"x2":0,"y":0.5,"y2":0.5},{"x":8,"x2":0,"y":1.5,"y2":1.5},
{"x":10,"x2":10,"y":2.5,"y2":3.5},{"x":10,"x2":0,"y":2.5,"y2":2.5},{"x":10,"x2":0,"y":3.5,"y2":3.5},
{"x":14,"x2":14,"y":1,"y2":3},{"x":14,"x2":8,"y":1,"y2":1},{"x":14,"x2":10,"y":3,"y2":3},
{"x":12,"x2":12,"y":4.5,"y2":5.5},{"x":12,"x2":0,"y":4.5,"y2":4.5},{"x":12,"x2":0,"y":5.5,"y2":5.5},
{"x":20,"x2":20,"y":2,"y2":5},{"x":20,"x2":14,"y":2,"y2":2},{"x":20,"x2":12,"y":5,"y2":5},
{"x":9,"x2":9,"y":6.5,"y2":7.5},{"x":9,"x2":0,"y":6.5,"y2":6.5},{"x":9,"x2":0,"y":7.5,"y2":7.5},
{"x":7,"x2":7,"y":8.5,"y2":9.5},{"x":7,"x2":0,"y":8.5,"y2":8.5},{"x":7,"x2":0,"y":9.5,"y2":9.5},
{"x":13,"x2":13,"y":7,"y2":9},{"x":13,"x2":9,"y":7,"y2":7},{"x":13,"x2":7,"y":9,"y2":9},
{"x":6,"x2":6,"y":10.5,"y2":11.5},{"x":6,"x2":0,"y":10.5,"y2":10.5},{"x":6,"x2":0,"y":11.5,"y2":11.5},
{"x":18,"x2":18,"y":8,"y2":11},{"x":18,"x2":13,"y":8,"y2":8},{"x":18,"x2":6,"y":11,"y2":11},
{"x":44,"x2":44,"y":3.5,"y2":9.5},{"x":44,"x2":20,"y":3.5,"y2":3.5},{"x":44,"x2":18,"y":9.5,"y2":9.5},
{"x":8,"x2":8,"y":12.5,"y2":13.5},{"x":8,"x2":0,"y":12.5,"y2":12.5},{"x":8,"x2":0,"y":13.5,"y2":13.5},
{"x":10,"x2":10,"y":14.5,"y2":15.5},{"x":10,"x2":0,"y":14.5,"y2":14.5},{"x":10,"x2":0,"y":15.5,"y2":15.5},
{"x":22,"x2":22,"y":15,"y2":16.5},{"x":22,"x2":10,"y":15,"y2":15},{"x":22,"x2":0,"y":16.5,"y2":16.5},
{"x":30,"x2":30,"y":13,"y2":15.75},{"x":30,"x2":8,"y":13,"y2":13},{"x":30,"x2":22,"y":15.75,"y2":15.75},
{"x":88.7,"x2":88.7,"y":6.5,"y2":14.375},{"x":88.7,"x2":44,"y":6.5,"y2":6.5},{"x":88.7,"x2":30,"y":14.375,"y2":14.375}
]
},
"hconcat":[
{
"title":{"text":"A","anchor":"start","fontSize":28,"fontWeight":"bold","offset":7,"color":"black"},
"spacing":5,
"vconcat":[
{"bounds":"flush","spacing":7,"hconcat":[
{"width":24,"height":10,"data":{"values":[{}]},"mark":{"type":"point","opacity":0}},
{"width":161,"height":142,
 "title":{"text":["Color Key","and Histogram"],"fontSize":9.5,"fontWeight":"bold","offset":0,"lineHeight":10,"color":"#222"},
 "view":{"stroke":"#555","strokeWidth":1},
 "encoding":{
  "x":{"field":"x","type":"quantitative","scale":{"domain":[-1.84,1.84],"nice":false,"zero":false},"axis":{"values":[-1,0,1],"labelExpr":"replace(datum.label, '\u2212', '-')","title":"Row Z-Score","titleFontSize":8,"titleFontWeight":"normal","labelFontSize":8,"tickSize":4,"domain":false,"labelPadding":5,"titlePadding":4,"tickColor":"#333","labelColor":"#222","titleColor":"#222","labelOverlap":false,"labelFlush":false}},
  "y":{"field":"n","type":"quantitative","scale":{"domain":[0,26.44],"nice":false,"zero":false},"axis":{"values":[0,5,10,15,20,25],"title":"Count","titleFontSize":5,"titleFontWeight":"normal","labelFontSize":8,"labelAngle":-90,"labelAlign":"center","labelBaseline":"bottom","tickSize":4,"domain":false,"labelPadding":2,"minExtent":15,"maxExtent":15,"titlePadding":10,"tickColor":"#333","labelColor":"#222","titleColor":"#222","labelOverlap":false,"labelFlush":false}}},
 "layer":[
  {"data":{"values":[{"x":-1.84,"x2":1.84,"n":0,"n2":26.44}]},
   "mark":{"type":"rect","color":{"gradient":"linear","x1":0,"y1":0,"x2":1,"y2":0,"stops":[{"offset":0,"color":"#313695"},{"offset":0.1,"color":"#4575b4"},{"offset":0.2,"color":"#74add1"},{"offset":0.3,"color":"#abd9e9"},{"offset":0.4,"color":"#e0f3f8"},{"offset":0.5,"color":"#ffffbf"},{"offset":0.6,"color":"#fee090"},{"offset":0.7,"color":"#fdae61"},{"offset":0.8,"color":"#f46d43"},{"offset":0.9,"color":"#d73027"},{"offset":1,"color":"#a50026"}]}},
   "encoding":{"x2":{"field":"x2"},"y2":{"field":"n2"}}},
  {"data":{"name":"histA"},"mark":{"type":"line","interpolate":"step-after","color":"#7ee6ec","strokeWidth":1.5}}
 ]},
{"width":436,"height":184,
 "title":{"text":"Variable genes in defense response","fontSize":14,"fontWeight":"bold","offset":-15,"color":"#111"},
 "data":{"name":"colA"},
 "mark":{"type":"rule","color":"#222","strokeWidth":1},
 "encoding":{"x":{"field":"x","type":"quantitative","scale":{"domain":[0,6],"nice":false,"zero":false},"axis":null},"x2":{"field":"x2"},
  "y":{"field":"y","type":"quantitative","scale":{"domain":[0,184],"nice":false},"axis":null},"y2":{"field":"y2"}}}
]},
{"bounds":"flush","spacing":6,"hconcat":[
{"width":195,"height":429,
 "data":{"name":"rowA"},
 "mark":{"type":"rule","color":"#222","strokeWidth":1},
 "encoding":{"x":{"field":"x","type":"quantitative","scale":{"domain":[0,100],"nice":false,"reverse":true},"axis":null},"x2":{"field":"x2"},
  "y":{"field":"y","type":"quantitative","scale":{"domain":[0,59],"nice":false,"reverse":true},"axis":null},"y2":{"field":"y2"}}},
{"width":436,"height":429,
 "data":{"name":"heatA"},
 "mark":{"type":"rect"},
 "encoding":{
  "x":{"field":"s","type":"nominal","sort":["cont_4","cont_1","cont_3","CO8_5","CO8_4","CO8_3"],"axis":{"orient":"bottom","title":null,"ticks":false,"domain":false,"labelAngle":-90,"labelFontSize":14,"labelPadding":10,"labelColor":"#222","labelOverlap":false}},
  "y":{"field":"g","type":"nominal","sort":null,"axis":{"orient":"right","title":null,"ticks":false,"domain":false,"labelFontSize":6.3,"labelPadding":3,"labelColor":"#222","labelOverlap":false}},
  "color":{"field":"z","type":"quantitative","scale":{"scheme":"redyellowblue","reverse":true,"domain":[-1.84,1.84]},"legend":null}}}
]}
]},
{
"title":{"text":"B","anchor":"start","fontSize":28,"fontWeight":"bold","offset":7,"color":"black"},
"spacing":5,
"vconcat":[
{"bounds":"flush","spacing":11,"hconcat":[
{"width":13,"height":10,"data":{"values":[{}]},"mark":{"type":"point","opacity":0}},
{"width":164,"height":139,
 "title":{"text":["Color Key","and Histogram"],"fontSize":9.5,"fontWeight":"bold","offset":0,"lineHeight":10,"color":"#222"},
 "view":{"stroke":"#555","strokeWidth":1},
 "encoding":{
  "x":{"field":"x","type":"quantitative","scale":{"domain":[-1.73,1.72],"nice":false,"zero":false},"axis":{"values":[-1.5,-1,-0.5,0,0.5,1,1.5],"labelExpr":"replace(datum.label, '\u2212', '-')","title":"Row Z-Score","titleFontSize":8,"titleFontWeight":"normal","labelFontSize":8,"tickSize":4,"domain":false,"labelPadding":5,"titlePadding":4,"tickColor":"#333","labelColor":"#222","titleColor":"#222","labelOverlap":false,"labelFlush":false}},
  "y":{"field":"n","type":"quantitative","scale":{"domain":[0,8.18],"nice":false,"zero":false},"axis":{"values":[0,2,4,6,8],"title":"Count","titleFontSize":5,"titleFontWeight":"normal","labelFontSize":8,"labelAngle":-90,"labelAlign":"center","labelBaseline":"bottom","tickSize":4,"domain":false,"labelPadding":2,"minExtent":15,"maxExtent":15,"titlePadding":3,"tickColor":"#333","labelColor":"#222","titleColor":"#222","labelOverlap":false,"labelFlush":false}}},
 "layer":[
  {"data":{"values":[{"x":-1.73,"x2":1.72,"n":0,"n2":8.18}]},
   "mark":{"type":"rect","color":{"gradient":"linear","x1":0,"y1":0,"x2":1,"y2":0,"stops":[{"offset":0,"color":"#313695"},{"offset":0.1,"color":"#4575b4"},{"offset":0.2,"color":"#74add1"},{"offset":0.3,"color":"#abd9e9"},{"offset":0.4,"color":"#e0f3f8"},{"offset":0.5,"color":"#ffffbf"},{"offset":0.6,"color":"#fee090"},{"offset":0.7,"color":"#fdae61"},{"offset":0.8,"color":"#f46d43"},{"offset":0.9,"color":"#d73027"},{"offset":1,"color":"#a50026"}]}},
   "encoding":{"x2":{"field":"x2"},"y2":{"field":"n2"}}},
  {"data":{"name":"histB"},"mark":{"type":"line","interpolate":"step-after","color":"#7ee6ec","strokeWidth":1.5}}
 ]},
{"width":433,"height":183,
 "title":{"text":"Variable genes in immune system process","fontSize":14,"fontWeight":"bold","offset":-12,"color":"#111"},
 "data":{"name":"colB"},
 "mark":{"type":"rule","color":"#222","strokeWidth":1},
 "encoding":{"x":{"field":"x","type":"quantitative","scale":{"domain":[0,6],"nice":false,"zero":false},"axis":null},"x2":{"field":"x2"},
  "y":{"field":"y","type":"quantitative","scale":{"domain":[0,183],"nice":false},"axis":null},"y2":{"field":"y2"}}}
]},
{"bounds":"flush","spacing":5,"hconcat":[
{"width":194,"height":429,
 "data":{"name":"rowB"},
 "mark":{"type":"rule","color":"#222","strokeWidth":1},
 "encoding":{"x":{"field":"x","type":"quantitative","scale":{"domain":[0,100],"nice":false,"reverse":true},"axis":null},"x2":{"field":"x2"},
  "y":{"field":"y","type":"quantitative","scale":{"domain":[0,17],"nice":false,"reverse":true},"axis":null},"y2":{"field":"y2"}}},
{"width":433,"height":429,
 "data":{"name":"heatB"},
 "mark":{"type":"rect"},
 "encoding":{
  "x":{"field":"s","type":"nominal","sort":["cont_4","cont_1","cont_3","CO8_4","CO8_5","CO8_3"],"axis":{"orient":"bottom","title":null,"ticks":false,"domain":false,"labelAngle":-90,"labelFontSize":14,"labelPadding":10,"labelColor":"#222","labelOverlap":false}},
  "y":{"field":"g","type":"nominal","sort":null,"axis":{"orient":"right","title":null,"ticks":false,"domain":false,"labelFontSize":9,"labelPadding":9,"labelColor":"#222","labelOverlap":false}},
  "color":{"field":"z","type":"quantitative","scale":{"scheme":"redyellowblue","reverse":true,"domain":[-1.73,1.72]},"legend":null}}}
]}
]}
]
}
